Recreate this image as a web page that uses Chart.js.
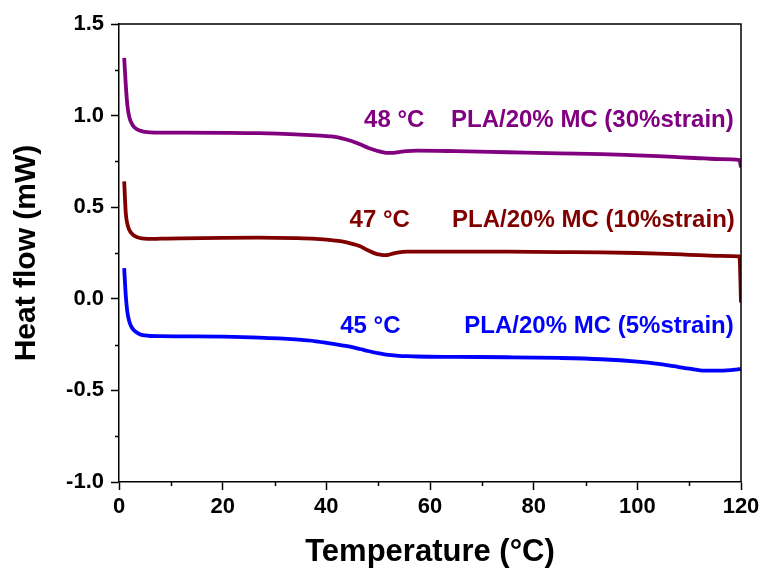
<!DOCTYPE html>
<html>
<head>
<meta charset="utf-8">
<title>DSC heat flow</title>
<script src="https://cdn.jsdelivr.net/npm/chart.js@4/dist/chart.umd.min.js"></script>
<style>
  html, body { margin: 0; padding: 0; background: #ffffff; }
  #wrap { width: 766px; height: 572px; position: relative; }
</style>
</head>
<body>
<div id="wrap"><canvas id="dsc"></canvas></div>
<script>
// Temperature sampling points (°C), shared by the three curves
const temperature = [1.0, 1.3, 1.6, 2.0, 2.5, 3.0, 4.0, 5.0, 6.0, 8.0, 12, 20, 27, 34, 38, 41, 43, 45, 46.5, 48,
  49, 50, 51, 52, 53, 54, 55.5, 57.5, 65, 75, 85, 93, 100, 104, 107, 110, 113, 116, 119.7, 120];

// Heat flow (mW) for each strain level
const heatFlow30 = [1.315, 1.17, 1.06, 0.99, 0.955, 0.935, 0.918, 0.911, 0.908, 0.907, 0.907, 0.906, 0.904, 0.898, 0.892, 0.886, 0.876, 0.86, 0.843, 0.825,
  0.815, 0.806, 0.799, 0.796, 0.797, 0.801, 0.806, 0.809, 0.806, 0.80, 0.794, 0.79, 0.783, 0.779, 0.775, 0.77, 0.766, 0.762, 0.757, 0.718];
const heatFlow10 = [0.641, 0.47, 0.41, 0.375, 0.355, 0.343, 0.332, 0.328, 0.327, 0.328, 0.33, 0.333, 0.334, 0.331, 0.327, 0.32, 0.313, 0.30, 0.287, 0.265,
  0.252, 0.243, 0.238, 0.24, 0.248, 0.253, 0.257, 0.258, 0.258, 0.257, 0.255, 0.253, 0.25, 0.247, 0.244, 0.24, 0.237, 0.234, 0.231, -0.02];
const heatFlow5 = [0.168, 0.02, -0.07, -0.125, -0.158, -0.175, -0.193, -0.2, -0.203, -0.204, -0.205, -0.207, -0.212, -0.222, -0.232, -0.245, -0.254, -0.264, -0.274, -0.285,
  -0.291, -0.297, -0.302, -0.306, -0.309, -0.311, -0.313, -0.315, -0.317, -0.319, -0.323, -0.33, -0.343, -0.355, -0.368, -0.381, -0.392, -0.392, -0.384, -0.383];

// Series names and glass-transition labels
const seriesNames = ['PLA/20% MC (30%strain)', 'PLA/20% MC (10%strain)', 'PLA/20% MC (5%strain)'];
const tgLabels = ['48 °C', '47 °C', '45 °C'];
const seriesColors = ['#800080', '#800000', '#0000ff'];

// Axis ranges and tick steps
const xRange = [0, 120];
const yRange = [-1.0, 1.5];
const xMajorStep = 20, xMinorStep = 10;
const yMajorStep = 0.5, yMinorStep = 0.25;

// Where the text labels sit, in data coordinates
const tgLabelAnchors = [[53.1, 0.975], [50.3, 0.427], [48.5, -0.148]];
const nameLabelAnchors = [[118.6, 0.975], [118.8, 0.427], [118.6, -0.152]];

const FONT = "'Liberation Sans', Arial, Helvetica, sans-serif";

function toPoints(xs, ys) {
  return xs.map((x, i) => ({ x: x, y: ys[i] }));
}

// Minor ticks, the top/right frame and the in-plot labels
const decorations = {
  id: 'decorations',
  afterDraw(chart) {
    const { ctx, chartArea: a, scales: { x, y } } = chart;
    ctx.save();
    ctx.strokeStyle = '#000';
    ctx.lineWidth = 1.5;
    ctx.beginPath();
    ctx.moveTo(a.left, a.top);
    ctx.lineTo(a.right, a.top);
    ctx.lineTo(a.right, a.bottom);
    ctx.stroke();

    ctx.beginPath();
    for (let v = xRange[0] + xMinorStep; v < xRange[1]; v += xMajorStep) {
      const px = Math.round(x.getPixelForValue(v)) + 0.5;
      ctx.moveTo(px, a.bottom);
      ctx.lineTo(px, a.bottom + 4);
    }
    for (let v = yRange[0] + yMinorStep; v < yRange[1]; v += yMajorStep) {
      const py = Math.round(y.getPixelForValue(v)) + 0.5;
      ctx.moveTo(a.left, py);
      ctx.lineTo(a.left - 4, py);
    }
    ctx.stroke();

    ctx.font = 'bold 24px ' + FONT;
    ctx.textBaseline = 'middle';
    tgLabels.forEach((t, i) => {
      ctx.fillStyle = seriesColors[i];
      ctx.textAlign = 'center';
      ctx.fillText(t, x.getPixelForValue(tgLabelAnchors[i][0]), y.getPixelForValue(tgLabelAnchors[i][1]));
      ctx.textAlign = 'right';
      ctx.fillText(seriesNames[i], x.getPixelForValue(nameLabelAnchors[i][0]), y.getPixelForValue(nameLabelAnchors[i][1]));
    });
    ctx.restore();
  }
};

const datasets = [heatFlow30, heatFlow10, heatFlow5].map((vals, i) => ({
  label: seriesNames[i],
  data: toPoints(temperature, vals),
  borderColor: seriesColors[i],
  backgroundColor: seriesColors[i],
  borderWidth: 3.8,
  pointRadius: 0,
  cubicInterpolationMode: 'monotone',
  fill: false
}));

new Chart(document.getElementById('dsc'), {
  type: 'line',
  data: { datasets: datasets },
  options: {
    responsive: true,
    maintainAspectRatio: false,
    animation: false,
    layout: { padding: { left: 0, right: 25, top: 24, bottom: 0 } },
    plugins: { legend: { display: false }, tooltip: { enabled: false } },
    scales: {
      x: {
        type: 'linear',
        min: xRange[0], max: xRange[1],
        afterFit(scale) { scale.height = 90; },
        border: { display: true, color: '#000', width: 1.5 },
        grid: { display: true, drawOnChartArea: false, drawTicks: true, tickLength: 8, tickWidth: 1.5, tickColor: '#000' },
        ticks: { stepSize: xMajorStep, color: '#000', padding: 4, maxRotation: 0,
                 font: { family: FONT, size: 22, weight: 'bold' } },
        title: { display: true, text: 'Temperature (°C)', color: '#000',
                 font: { family: FONT, size: 31, weight: 'bold' }, padding: { top: 0, bottom: 1 } }
      },
      y: {
        type: 'linear',
        min: yRange[0], max: yRange[1],
        afterFit(scale) { scale.width = 119; },
        border: { display: true, color: '#000', width: 1.5 },
        grid: { display: true, drawOnChartArea: false, drawTicks: true, tickLength: 8, tickWidth: 1.5, tickColor: '#000' },
        ticks: { stepSize: yMajorStep, color: '#000', padding: 7,
                 font: { family: FONT, size: 22, weight: 'bold' },
                 callback: (v) => Number(v).toFixed(1) },
        title: { display: true, text: 'Heat flow (mW)', color: '#000',
                 font: { family: FONT, size: 30, weight: 'bold' }, padding: { top: 9, bottom: 0 } }
      }
    }
  },
  plugins: [decorations]
});
</script>
</body>
</html>
